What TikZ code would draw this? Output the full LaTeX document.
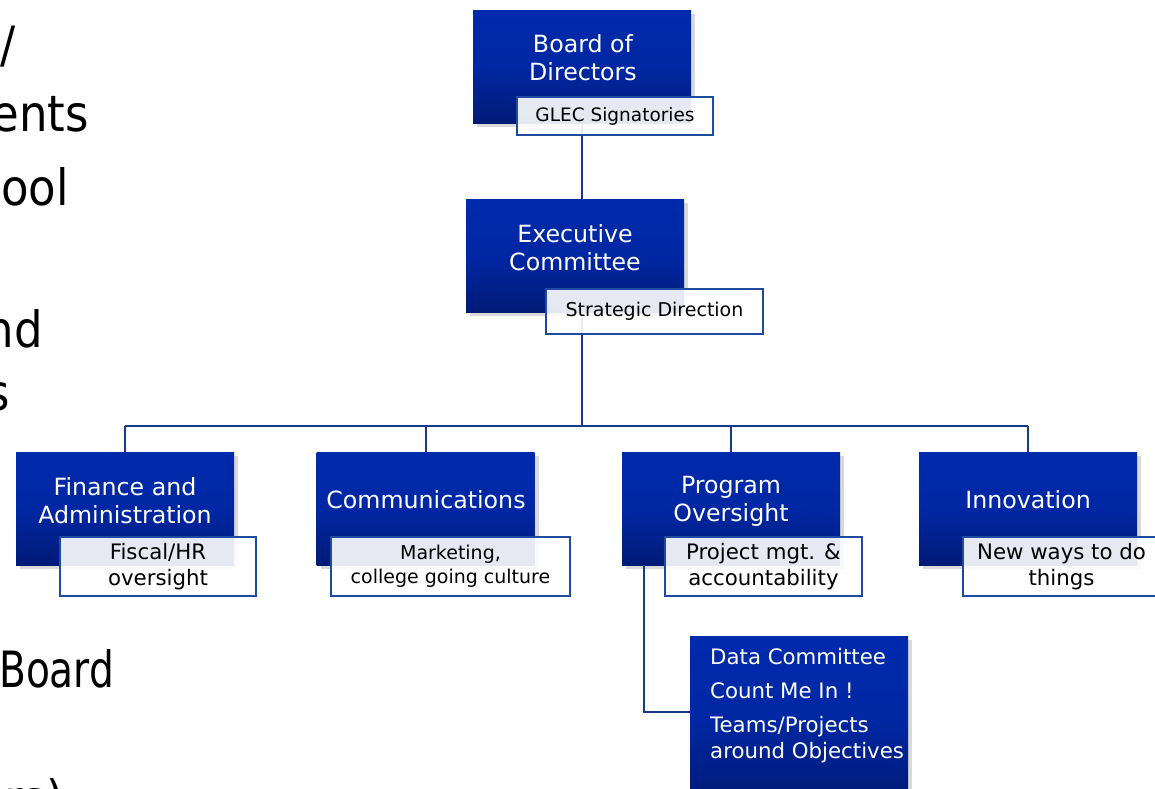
\documentclass[tikz,border=0pt]{standalone}
\usepackage{fontspec}
\usepackage{graphicx}
\setmainfont{DejaVu Sans}
\newfontfamily\slidefont{DejaVu Sans Condensed}
\usetikzlibrary{shadows}
\definecolor{boxtop}{RGB}{0,42,172}
\definecolor{boxbot}{RGB}{0,26,118}
\definecolor{tagline}{RGB}{30,74,160}
\definecolor{wire}{RGB}{24,58,138}
\tikzset{
  unit/.style={draw=none, inner sep=0pt, minimum width=218pt, minimum height=113pt,
    top color=boxtop, bottom color=boxbot, middle color=boxtop!85!boxbot,
    drop shadow={opacity=0.3, shadow xshift=4pt, shadow yshift=-4pt}},
  unittext/.style={text=white, align=center, inner sep=0pt, font=\fontsize{23.7}{28}\selectfont},
  tag/.style={draw=tagline, line width=1.8pt, fill=white, fill opacity=0.9, text opacity=1,
    draw opacity=1, inner sep=0pt, text=black, align=center},
  tagtext/.style={font=\fontsize{21.3}{26}\selectfont},
  wirestyle/.style={draw=wire, line width=2pt},
  slidetext/.style={text=black, inner sep=0pt, font=\slidefont\fontsize{50}{60}\selectfont},
}
\begin{document}
\begin{tikzpicture}[x=1pt, y=-1pt]
\useasboundingbox (0,0) rectangle (1155,788);
\clip (0,0) rectangle (1155,788);
% left slide text fragments
\node[slidetext, anchor=base east] (t1) at (16,62) {/};
\node[slidetext, anchor=base east] (t2) at (89,131) {ents};
\node[slidetext, anchor=base east] (t3) at (69,205) {ool};
\node[slidetext, anchor=base east] (t4) at (43,347) {nd};
\node[slidetext, anchor=base east] (t5) at (10,410) {s};
\node[slidetext, anchor=base west] (t6) at (-1,687) {\scalebox{0.87}[1]{Board}};
\node[slidetext, anchor=base east] (t7) at (64,816) {ers)};
% coordinates for wiring
\coordinate (spine) at (582,0);
\coordinate (bus) at (0,426);
\coordinate (elbow) at (644,712);
% blue boxes
\node[unit] (board) at (582,66.5) {};
\node[unit] (exec) at (575,255.5) {};
\node[unit] (fin) at (125,508.5) {};
\node[unit] (comm) at (425.5,508.5) {};
\node[unit] (prog) at (731,508.5) {};
\node[unit] (innov) at (1028,508.5) {};
\node[unit, minimum height=164pt] (data) at (799,718) {};
% connectors
\draw[wirestyle] (board.south) -- (board.south |- exec.north);
\draw[wirestyle] (spine |- exec.south) -- (spine |- bus);
\draw[wirestyle] (fin.north |- bus) -- (innov.north |- bus);
\draw[wirestyle] (fin.north |- bus) -- (fin.north);
\draw[wirestyle] (comm.north |- bus) -- (comm.north);
\draw[wirestyle] (prog.north |- bus) -- (prog.north);
\draw[wirestyle] (innov.north |- bus) -- (innov.north);
\draw[wirestyle] (elbow |- prog.south) -- (elbow) -- (data.west |- elbow);
% box texts
\node[unittext] (boardt) at (583,58) {Board of\\Directors};
\node[unittext] (exect) at (575,247.5) {Executive\\Committee};
\node[unittext] (fint) at (125,501) {Finance and\\Administration};
\node[unittext] (commt) at (426,500) {Communications};
\node[unittext] (progt) at (731,501) {Program\\Oversight};
\node[unittext] (innovt) at (1028,500) {Innovation};
\node[unittext, anchor=north west, align=left, font=\fontsize{21.3}{26}\selectfont] (datat) at (710,648)
  {Data Committee\\[8pt]Count Me In !\\[8pt]Teams/Projects\\around Objectives};
% tags
\node[tag, minimum width=196pt, minimum height=38pt, font=\fontsize{18.5}{24}\selectfont] (glec) at (615,116) {GLEC Signatories};
\node[tag, minimum width=217pt, minimum height=45pt, font=\fontsize{19}{24}\selectfont] (strat) at (654.5,311.5) {Strategic Direction};
\node[tag, tagtext, minimum width=196pt, minimum height=59pt] (fiscal) at (158,566.5) {Fiscal/HR\\oversight};
\node[tag, minimum width=239pt, minimum height=59pt, font=\fontsize{19}{24}\selectfont] (market) at (450.5,566.5) {Marketing,\\college going culture};
\node[tag, tagtext, minimum width=197pt, minimum height=59pt] (proj) at (763.5,566.5) {Project mgt. \&\\accountability};
\node[tag, tagtext, minimum width=197pt, minimum height=59pt] (newways) at (1061.5,566.5) {New ways to do\\things};
\end{tikzpicture}
\end{document}
